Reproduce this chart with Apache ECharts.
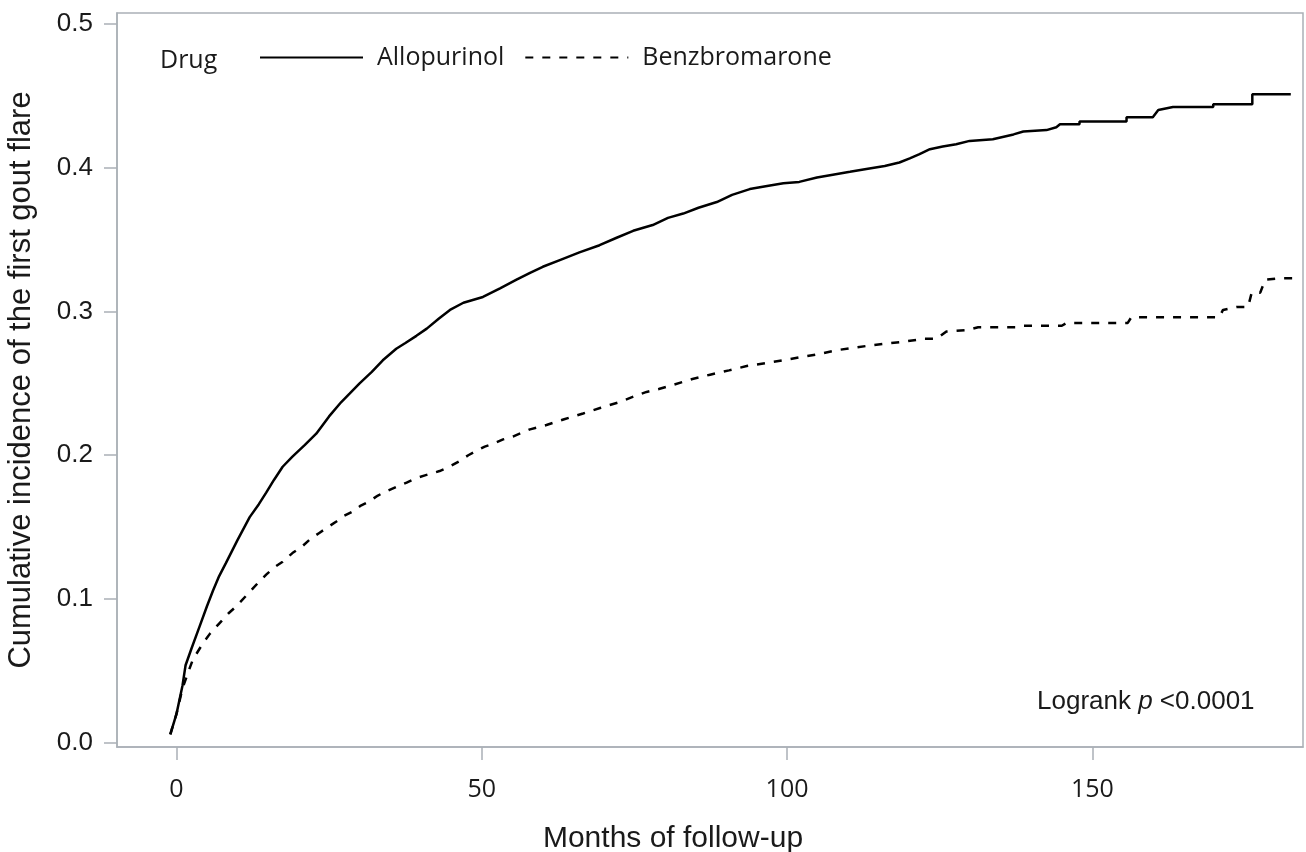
<!DOCTYPE html>
<html>
<head>
<meta charset="utf-8">
<script src="https://cdn.jsdelivr.net/npm/echarts@6/dist/echarts.min.js"></script>
<style>
  html, body { margin: 0; padding: 0; background: #fff; }
  #chart { width: 1306px; height: 852px; }
</style>
</head>
<body>
<div id="chart"></div>
<script>
// ---- Data (months, cumulative incidence) ----
const seriesNames = ['Allopurinol', 'Benzbromarone'];
const xTicks = [0, 50, 100, 150];
const yTicks = [0, 0.1, 0.2, 0.3, 0.4, 0.5];

const allopurinol = [
  [-1, 0.006], [0, 0.02], [1, 0.04], [1.5, 0.054], [2.5, 0.066], [3.8, 0.081], [5, 0.095],
  [6, 0.106], [7, 0.116], [8.1, 0.125], [10, 0.141], [12, 0.157], [13.5, 0.166], [14.7, 0.174],
  [16, 0.183], [17.4, 0.192], [19, 0.199], [21, 0.207], [22.9, 0.215], [25, 0.227], [27, 0.237],
  [28.4, 0.243], [30, 0.250], [32, 0.258], [33.8, 0.266], [36, 0.274], [37.5, 0.278], [39.3, 0.283],
  [41, 0.288], [43, 0.295], [44.8, 0.301], [47, 0.306], [50.2, 0.310], [53, 0.316], [55.7, 0.322],
  [58, 0.327], [60, 0.331], [63, 0.336], [66, 0.341], [69.3, 0.346], [72, 0.351], [74.8, 0.356],
  [78, 0.360], [80.5, 0.365], [83, 0.368], [85.5, 0.372], [88.5, 0.376], [91, 0.381], [93.9, 0.385],
  [96.5, 0.387], [99.4, 0.389], [102, 0.390], [104.9, 0.393], [107.5, 0.395], [110.3, 0.397],
  [113, 0.399], [116, 0.401], [118.4, 0.4035], [120.1, 0.4063], [121.7, 0.4093], [123.4, 0.4127],
  [125.5, 0.4146], [127.7, 0.4162], [129.9, 0.4185], [133.7, 0.4197], [137.1, 0.423], [138.7, 0.425],
  [142.5, 0.426], [144.1, 0.428], [144.7, 0.430], [147.9, 0.430], [147.9, 0.432], [155.6, 0.432],
  [155.6, 0.435], [159.9, 0.435], [160.8, 0.440], [163.2, 0.442], [169.8, 0.442], [169.8, 0.444],
  [176.2, 0.444], [176.2, 0.451], [182.5, 0.451]
];

const benzbromarone = [
  [-1, 0.006], [0, 0.02], [1, 0.038], [2, 0.05], [2.7, 0.058], [4.3, 0.069], [5.5, 0.076],
  [7, 0.083], [8.5, 0.090], [9.8, 0.095], [12, 0.105], [13.3, 0.111], [14.7, 0.117], [16, 0.122],
  [17.4, 0.126], [19, 0.132], [20.7, 0.137], [22, 0.142], [23.4, 0.146], [24.8, 0.150], [26.2, 0.154],
  [27.5, 0.158], [28.9, 0.161], [30.2, 0.165], [31.6, 0.168], [33, 0.172], [34.4, 0.175], [36, 0.178],
  [37.7, 0.181], [39.2, 0.184], [40.7, 0.186], [43.1, 0.189], [44.7, 0.192], [46.4, 0.196],
  [47.8, 0.200], [49.1, 0.203], [50.5, 0.206], [51.9, 0.208], [53.5, 0.211], [55.1, 0.213],
  [57.9, 0.218], [60.6, 0.221], [63.5, 0.225], [66.6, 0.229], [69.5, 0.233], [72.6, 0.237],
  [75, 0.241], [77, 0.244], [79, 0.246], [81.4, 0.249], [84.5, 0.253], [87.4, 0.256], [90.5, 0.259],
  [93.4, 0.262], [96.5, 0.264], [99.4, 0.266], [102, 0.268], [104.9, 0.270], [108.1, 0.273],
  [113.1, 0.276], [117, 0.278], [119.3, 0.279], [122.5, 0.281], [124.5, 0.281], [126.1, 0.286],
  [129.5, 0.287], [131.3, 0.289], [137.5, 0.289], [138.4, 0.290], [145, 0.290], [145.8, 0.292],
  [155.8, 0.292], [156.4, 0.296], [170.8, 0.296], [171.4, 0.301], [173.6, 0.303], [175.5, 0.303],
  [176.1, 0.313], [177.5, 0.313], [178.3, 0.322], [180.7, 0.323], [182.9, 0.323]
];

const frameColor = '#aab0b6';
const textColor = '#1a1a1a';

const chart = echarts.init(document.getElementById('chart'), null, { renderer: 'canvas' });
chart.setOption({
  backgroundColor: '#ffffff',
  animation: false,
  title: [
    {
      text: 'Drug', left: 155, top: 43,
      textStyle: { fontFamily: 'Open Sans', fontSize: 25, fontWeight: 'normal', color: textColor }
    },
    {
      text: '{a|Logrank }{i|p}{a| <0.0001}', left: 1032, top: 684,
      textStyle: {
        fontWeight: 'normal',
        rich: {
          a: { fontFamily: 'Liberation Sans', fontSize: 26, fontWeight: 'normal', color: textColor },
          i: { fontFamily: 'Liberation Sans', fontSize: 26, fontWeight: 'normal', fontStyle: 'italic', color: textColor }
        }
      }
    }
  ],
  legend: {
    data: seriesNames,
    left: 254, top: 40,
    itemWidth: 103, itemHeight: 16, itemGap: 20,
    itemStyle: { color: 'rgba(0,0,0,0)', borderColor: 'rgba(0,0,0,0)', borderWidth: 0, opacity: 0 },
    textStyle: { fontFamily: 'Open Sans', fontSize: 25, color: textColor, padding: [0, 0, 0, 9] }
  },
  grid: {
    left: 117, top: 13, right: 3, bottom: 105,
    show: true, borderColor: frameColor, borderWidth: 1.5,
    containLabel: false, outerBoundsMode: 'none'
  },
  xAxis: {
    type: 'value', min: -9.73, max: 184.5,
    name: 'Months of follow-up', nameLocation: 'middle', nameGap: 77,
    nameTextStyle: { fontFamily: 'Liberation Sans', fontSize: 30, color: textColor, padding: [0, 74, 0, 0] },
    axisLine: { show: true, onZero: false, lineStyle: { color: frameColor, width: 1.5 } },
    axisTick: { show: true, length: 13, customValues: xTicks, lineStyle: { color: frameColor, width: 1.5 } },
    axisLabel: { customValues: xTicks, margin: 30, fontFamily: 'Open Sans', fontSize: 25, color: textColor },
    splitLine: { show: false }
  },
  yAxis: {
    type: 'value', min: -0.0028, max: 0.5074,
    name: 'Cumulative incidence of the first gout flare', nameLocation: 'middle', nameGap: 80,
    nameTextStyle: { fontFamily: 'Liberation Sans', fontSize: 31, color: textColor },
    axisLine: { show: true, onZero: false, lineStyle: { color: frameColor, width: 1.5 } },
    axisTick: { show: true, length: 13, customValues: yTicks, lineStyle: { color: frameColor, width: 1.5 } },
    axisLabel: {
      customValues: yTicks, margin: 24, fontFamily: 'Liberation Sans', fontSize: 26, color: textColor,
      formatter: v => Number(v).toFixed(1)
    },
    splitLine: { show: false }
  },
  series: [
    {
      name: seriesNames[0], type: 'line', data: allopurinol, symbol: 'none', showSymbol: false,
      lineStyle: { color: '#000', width: 2.5, type: 'solid' }, itemStyle: { color: '#000' },
      z: 3
    },
    {
      name: seriesNames[1], type: 'line', data: benzbromarone, symbol: 'none', showSymbol: false,
      lineStyle: { color: '#000', width: 2.5, type: [8, 9] }, itemStyle: { color: '#000' },
      z: 2
    }
  ]
});
</script>
</body>
</html>
